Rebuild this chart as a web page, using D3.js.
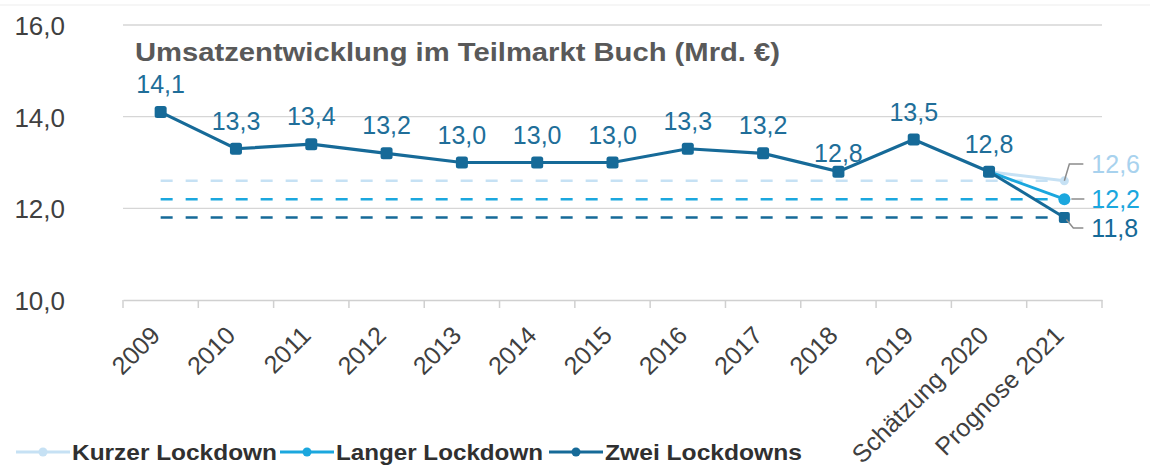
<!DOCTYPE html>
<html>
<head>
<meta charset="utf-8">
<script src="https://cdn.jsdelivr.net/npm/d3@7"></script>
<style>
  body { margin: 0; background: #fff; }
  text { font-family: "Liberation Sans", Arial, sans-serif; }
</style>
</head>
<body>
<svg id="chart" width="1150" height="466"></svg>
<script>
// categories on the x axis
var years = ["2009", "2010", "2011", "2012", "2013", "2014", "2015", "2016", "2017", "2018", "2019", "Schätzung 2020", "Prognose 2021"]
// sales up to the 2020 estimate (Mrd. €)
var sales = [14.1, 13.3, 13.4, 13.2, 13.0, 13.0, 13.0, 13.3, 13.2, 12.8, 13.5, 12.8]
// 2021 forecast per scenario
var scenarios = ["Kurzer Lockdown", "Langer Lockdown", "Zwei Lockdowns"]
var forecast2021 = [12.6, 12.2, 11.8]
var yTicks = [10, 12, 14, 16]
var colors = ["#c6e1f4", "#1ba7de", "#166a98"]

var svg = d3.select("#chart")
var fmt = function(v) { return d3.format(".1f")(v).replace(".", ",") }

var x = d3.scaleBand().domain(years).range([123, 1102]).padding(0)
var y = d3.scaleLinear().domain([10, 16]).range([300, 25])
var cx = function(c) { return x(c) + x.bandwidth() / 2 }

// faint top border
svg.append("line").attr("x1", 0).attr("x2", 1150).attr("y1", 5).attr("y2", 5)
  .attr("stroke", "#ededed").attr("stroke-width", 1)

// gridlines
svg.selectAll(".grid").data(yTicks.filter(function(d) { return d > 10 }))
  .enter().append("line")
  .attr("x1", 123).attr("x2", 1102)
  .attr("y1", function(d) { return y(d) }).attr("y2", function(d) { return y(d) })
  .attr("stroke", "#d6d6d6").attr("stroke-width", 1.3)

// y labels
svg.selectAll(".ylab").data(yTicks).enter().append("text")
  .attr("x", 65).attr("y", function(d) { return y(d) + 10 })
  .attr("text-anchor", "end")
  .attr("font-size", 26).attr("fill", "#404040")
  .text(fmt)

// x axis
var xAxis = d3.axisBottom(x).tickSize(0).tickFormat("")
var gx = svg.append("g").attr("transform", "translate(0,300)").call(xAxis)
gx.select(".domain").attr("stroke", "#d0d0d0").attr("stroke-width", 1.5)
gx.selectAll(".tick").remove()
var bounds = years.map(function(c) { return x(c) }).concat([x.range()[1]])
svg.selectAll(".xt").data(bounds).enter().append("line")
  .attr("x1", function(d) { return d }).attr("x2", function(d) { return d })
  .attr("y1", 300).attr("y2", 308)
  .attr("stroke", "#d0d0d0").attr("stroke-width", 1.5)

svg.selectAll(".xlab").data(years).enter().append("text")
  .attr("transform", function(d) { return "translate(" + (cx(d) + 1) + ",337) rotate(-45)" })
  .attr("text-anchor", "end")
  .attr("font-size", 25).attr("fill", "#404040")
  .text(function(d) { return d })

// title
svg.append("text").attr("x", 135).attr("y", 61)
  .attr("font-size", 25).attr("font-weight", "bold").attr("fill", "#595959")
  .attr("textLength", 645).attr("lengthAdjust", "spacingAndGlyphs")
  .text("Umsatzentwicklung im Teilmarkt Buch (Mrd. €)")

// dashed reference lines for the scenarios
forecast2021.forEach(function(v, i) {
  svg.append("line")
    .attr("x1", cx(years[0])).attr("x2", cx(years[12]) - 14)
    .attr("y1", y(v)).attr("y2", y(v))
    .attr("stroke", colors[i]).attr("stroke-width", 2.5)
    .attr("stroke-dasharray", "12,13")
})

// scenario lines from 2020 to 2021
var last = sales.length - 1
forecast2021.forEach(function(v, i) {
  var pts = [[years[last], sales[last]], [years[last + 1], v]]
  var line = d3.line().x(function(d) { return cx(d[0]) }).y(function(d) { return y(d[1]) })
  svg.append("path").attr("d", line(pts))
    .attr("fill", "none").attr("stroke", colors[i]).attr("stroke-width", 3)
})

// main line
var salesLine = d3.line().x(function(d, i) { return cx(years[i]) }).y(function(d) { return y(d) })
svg.append("path").attr("d", salesLine(sales))
  .attr("fill", "none").attr("stroke", colors[2]).attr("stroke-width", 3.2)

// markers
svg.selectAll(".mk").data(sales).enter().append("rect")
  .attr("x", function(d, i) { return cx(years[i]) - 6 })
  .attr("y", function(d) { return y(d) - 6 })
  .attr("width", 12).attr("height", 12).attr("rx", 2.5)
  .attr("fill", colors[2])

forecast2021.forEach(function(v, i) {
  var px = cx(years[12]), py = y(v)
  if (i == 2) {
    svg.append("rect").attr("x", px - 5.5).attr("y", py - 5.5).attr("width", 11).attr("height", 11)
      .attr("rx", 2).attr("fill", colors[i])
  } else {
    svg.append("circle").attr("cx", px).attr("cy", py).attr("r", i == 0 ? 4.5 : 6).attr("fill", colors[i])
  }
})

// data labels
svg.selectAll(".dl").data(sales).enter().append("text")
  .attr("x", function(d, i) { return cx(years[i]) })
  .attr("y", function(d, i) { return y(d) - (i == 9 ? 10 : 19) })
  .attr("text-anchor", "middle")
  .attr("font-size", 25).attr("fill", "#206e99")
  .text(fmt)

// leader lines + scenario labels
var labY = [164, 199, 228]
forecast2021.forEach(function(v, i) {
  var px = cx(years[12]), py = y(v)
  var pts
  if (i == 0) pts = [[px, py], [px + 5, labY[i]], [px + 19, labY[i]]]
  else if (i == 1) pts = [[px + 7, labY[i]], [px + 20, labY[i]]]
  else pts = [[px + 2, py + 2], [px + 9, labY[i]], [px + 19, labY[i]]]
  svg.append("path").attr("d", d3.line()(pts))
    .attr("fill", "none").attr("stroke", "#8c8c8c").attr("stroke-width", 1.5)
  svg.append("text").attr("x", px + 27).attr("y", labY[i] + 9)
    .attr("font-size", 25).attr("fill", i == 0 ? "#a8d2ee" : colors[i])
    .text(fmt(v))
})

// legend
var lgX = [16, 280, 549]
var lgW = [205, 207, 197]
scenarios.forEach(function(s, i) {
  var g = svg.append("g").attr("transform", "translate(" + lgX[i] + ",452)")
  g.append("line").attr("x1", 0).attr("x2", 54).attr("y1", 0).attr("y2", 0)
    .attr("stroke", colors[i]).attr("stroke-width", 3)
  g.append("circle").attr("cx", 27).attr("cy", 0).attr("r", 4.5).attr("fill", colors[i])
  g.append("text").attr("x", 56).attr("y", 8)
    .attr("font-size", 22).attr("font-weight", "bold").attr("fill", "#303030")
    .attr("textLength", lgW[i]).attr("lengthAdjust", "spacingAndGlyphs")
    .text(s)
})
</script>
</body>
</html>
